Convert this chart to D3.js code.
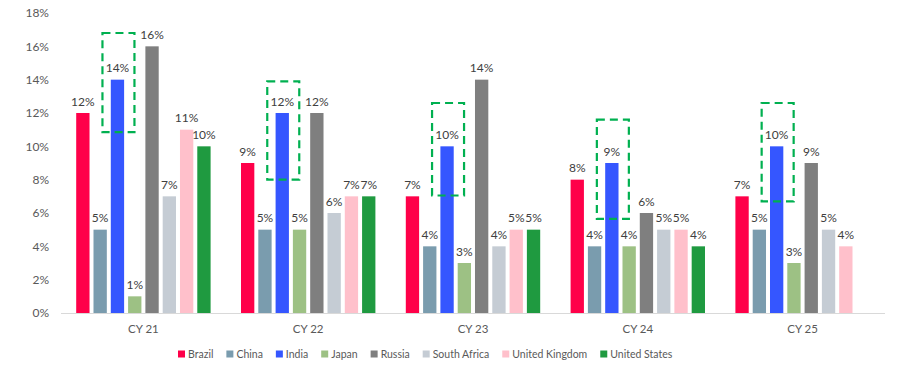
<!DOCTYPE html>
<html><head><meta charset="utf-8">
<script src="https://cdn.jsdelivr.net/npm/d3@7/dist/d3.min.js"></script>
<style>body{margin:0;background:#fff}svg{display:block}text{font-family:Lato,"Open Sans",sans-serif}</style>
</head><body><svg id="c" width="903" height="368"></svg>
<script>
const categories = ["CY 21","CY 22","CY 23","CY 24","CY 25"];
const seriesNames = ["Brazil","China","India","Japan","Russia","South Africa","United Kingdom","United States"];
const brazil = [12, 9, 7, 8, 7];
const china = [5, 5, 4, 4, 5];
const india = [14, 12, 10, 9, 10];
const japan = [1, 5, 3, 4, 3];
const russia = [16, 12, 14, 6, 9];
const southAfrica = [7, 6, 4, 5, 5];
const unitedKingdom = [11, 7, 5, 5, 4];
const unitedStates = [10, 7, 5, 4, null];
const yTicks = [0, 2, 4, 6, 8, 10, 12, 14, 16, 18];
// highlight boxes around India bars (value extents, %)
const boxTop = [16.8, 13.9, 12.6, 11.6, 12.6];
const boxBottom = [10.85, 8.0, 7.05, 5.65, 6.7];

const colors = ["#FF0049","#7A9CAE","#3556FF","#9DC184","#7F7F7F","#C5CCD4","#FFC0CB","#1F9A40"];
const seriesValues = [brazil, china, india, japan, russia, southAfrica, unitedKingdom, unitedStates];

const svg = d3.select("#c");
const m = {l:61, r:885, t:13, b:313};
const x0 = d3.scaleBand().domain(categories).range([m.l, m.r]).padding(0);
const gw = x0.bandwidth();
const x1 = d3.scaleBand().domain(seriesNames).range([15.2, gw - 15.2]).paddingInner(0.23).paddingOuter(0);
const y = d3.scaleLinear().domain([0, 18]).range([m.b, m.t]);

// y axis labels
svg.append("g").selectAll("text").data(yTicks).join("text")
  .attr("x", 49).attr("y", d => y(d)).attr("dy", "0.35em")
  .attr("text-anchor", "end").attr("font-size", 12).attr("fill", "#595959")
  .text(d => d + "%");

// bars
const groups = svg.append("g").selectAll("g").data(categories).join("g")
  .attr("transform", d => `translate(${x0(d)},0)`);
groups.each(function(cat, ci) {
  const g = d3.select(this);
  const items = seriesNames.map((s, si) => ({s, si, v: seriesValues[si][ci]})).filter(d => d.v != null);
  g.selectAll("rect").data(items).join("rect")
    .attr("x", d => x1(d.s)).attr("width", x1.bandwidth())
    .attr("y", d => y(d.v)).attr("height", d => y(0) - y(d.v))
    .attr("fill", d => colors[d.si]);
  g.selectAll("text").data(items).join("text")
    .attr("x", d => x1(d.s) + x1.bandwidth() / 2).attr("y", d => y(d.v) - 7.5)
    .attr("text-anchor", "middle").attr("font-size", 12).attr("fill", "#404040")
    .text(d => d.v + "%");
});

// axis line
svg.append("line").attr("x1", m.l).attr("x2", m.r).attr("y1", y(0) + 0.5).attr("y2", y(0) + 0.5)
  .attr("stroke", "#D9D9D9").attr("stroke-width", 1);

// x labels
svg.append("g").selectAll("text").data(categories).join("text")
  .attr("x", d => x0(d) + gw / 2).attr("y", 329).attr("dy", "0.35em")
  .attr("text-anchor", "middle").attr("font-size", 11.5).attr("fill", "#595959")
  .text(d => d);

// highlight boxes
svg.append("g").selectAll("rect").data(categories).join("rect")
  .attr("x", (d, i) => x0(d) + x1("India") + x1.bandwidth() / 2 - 15)
  .attr("width", 32)
  .attr("y", (d, i) => y(boxTop[i]))
  .attr("height", (d, i) => y(boxBottom[i]) - y(boxTop[i]))
  .attr("fill", "none").attr("stroke", "#00B050").attr("stroke-width", 2.2)
  .attr("stroke-dasharray", "8,5");

// legend
const lg = svg.append("g");
let lx = 178;
seriesNames.forEach((s, i) => {
  lg.append("rect").attr("x", lx).attr("y", 350.5).attr("width", 7).attr("height", 7).attr("fill", colors[i]);
  const t = lg.append("text").attr("x", lx + 10).attr("y", 354).attr("dy", "0.35em")
    .attr("font-size", 10.5).attr("fill", "#595959").text(s);
  lx += 10 + t.node().getComputedTextLength() + 13;
});
</script></body></html>
